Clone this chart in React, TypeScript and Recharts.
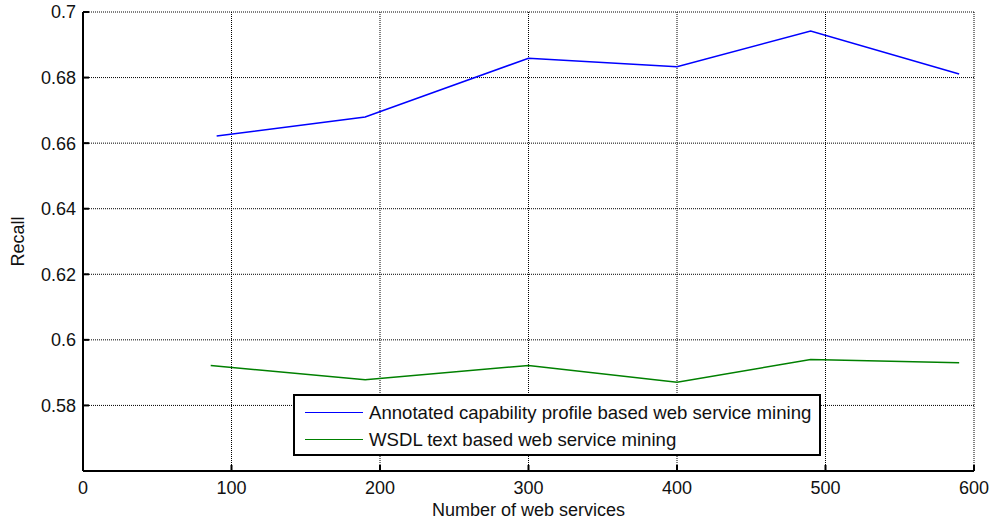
import React from 'react';
import { LineChart, Line, XAxis, YAxis, CartesianGrid, Legend } from 'recharts';

const annotatedX = [90, 190, 300, 400, 490, 590];
const annotatedRecall = [0.6622, 0.668, 0.6859, 0.6833, 0.6942, 0.6811];
const wsdlX = [86, 190, 300, 400, 490, 590];
const wsdlRecall = [0.5922, 0.5878, 0.5922, 0.5871, 0.594, 0.593];

const xTicks = [0, 100, 200, 300, 400, 500, 600];
const yTicks = [0.58, 0.6, 0.62, 0.64, 0.66, 0.68, 0.7];

const annotatedData = annotatedX.map((x, i) => ({ n: x, recall: annotatedRecall[i] }));
const wsdlData = wsdlX.map((x, i) => ({ n: x, recall: wsdlRecall[i] }));

const FONT = '"Liberation Sans", Arial, sans-serif';
const tickStyle = { fontSize: 18, fill: '#111', fontFamily: FONT };

const fmtY = (v: number) => String(Number(v.toFixed(2)));

const LegendBox = (props: any) => {
  const items = props.payload || [];
  return (
    <div
      style={{
        border: '2px solid #000',
        background: '#fff',
        boxSizing: 'border-box',
        width: 528,
        height: 62,
        padding: '3px 0 0 10px',
        fontFamily: FONT,
        fontSize: 18.6,
        color: '#111',
        whiteSpace: 'nowrap',
      }}
    >
      {items.map((it: any) => (
        <div key={it.value} style={{ display: 'flex', alignItems: 'center', height: 27 }}>
          <span style={{ display: 'inline-block', width: 58, height: 0, borderTop: `1.5px solid ${it.color}`, marginRight: 6 }} />
          <span>{it.value}</span>
        </div>
      ))}
    </div>
  );
};

export default function App() {
  return (
    <div style={{ position: 'absolute', left: 0, top: 0, width: 990, height: 521, background: '#fff' }}>
      <LineChart width={990} height={521} margin={{ top: 12, right: 16, bottom: 20, left: 0 }}>
        <CartesianGrid stroke="#000" strokeDasharray="1 1" />
        <XAxis
          dataKey="n"
          type="number"
          domain={[0, 600]}
          ticks={xTicks}
          allowDuplicatedCategory={false}
          height={30}
          stroke="#000"
          strokeWidth={2}
          tickSize={-6}
          tickMargin={16}
          tick={tickStyle}
          tickLine={{ stroke: '#000', strokeWidth: 2 }}
          label={{ value: 'Number of web services', position: 'bottom', offset: 2, style: { fontSize: 18, fill: '#111', fontFamily: FONT } }}
        />
        <XAxis
          xAxisId="top"
          orientation="top"
          type="number"
          domain={[0, 600]}
          ticks={xTicks}
          height={0}
          stroke="#000"
          strokeWidth={2}
          tickSize={-6}
          tick={false}
          tickLine={{ stroke: '#000', strokeWidth: 2 }}
        />
        <YAxis
          type="number"
          domain={[0.56, 0.7]}
          ticks={yTicks}
          width={83}
          stroke="#000"
          strokeWidth={2}
          tickSize={-6}
          tickMargin={13}
          tick={tickStyle}
          tickFormatter={fmtY}
          tickLine={{ stroke: '#000', strokeWidth: 2 }}
          label={{ value: 'Recall', angle: -90, position: 'insideLeft', offset: 18, style: { textAnchor: 'middle', fontSize: 18, fill: '#111', fontFamily: FONT } }}
        />
        <YAxis
          yAxisId="right"
          orientation="right"
          type="number"
          domain={[0.56, 0.7]}
          ticks={yTicks}
          width={0}
          stroke="#000"
          strokeWidth={2}
          tickSize={-6}
          tick={false}
          tickLine={{ stroke: '#000', strokeWidth: 2 }}
        />
        <Line
          data={annotatedData}
          dataKey="recall"
          name="Annotated capability profile based web service mining"
          type="linear"
          stroke="#0000ff"
          strokeWidth={1.5}
          dot={false}
          activeDot={false}
          isAnimationActive={false}
        />
        <Line
          data={wsdlData}
          dataKey="recall"
          name="WSDL text based web service mining"
          type="linear"
          stroke="#008000"
          strokeWidth={1.5}
          dot={false}
          activeDot={false}
          isAnimationActive={false}
        />
        <Legend
          layout="horizontal"
          align="center"
          verticalAlign="middle"
          content={<LegendBox />}
          wrapperStyle={{ position: 'absolute', left: 293, top: 394, width: 528, height: 62, bottom: 'auto', right: 'auto' }}
        />
      </LineChart>
    </div>
  );
}
